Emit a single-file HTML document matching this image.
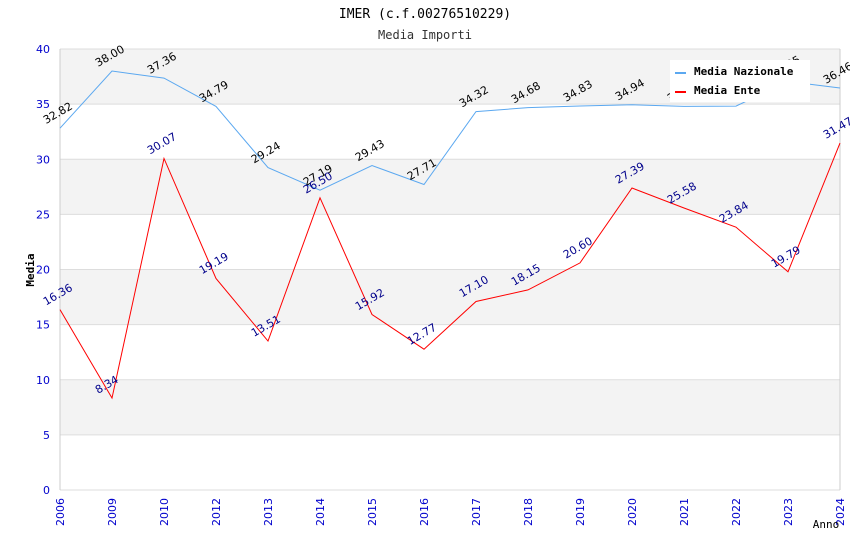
<!DOCTYPE html>
<html><head><meta charset="utf-8"><style>
body{margin:0;background:#fff;width:850px;height:550px;overflow:hidden}
.mono{font-family:"DejaVu Sans Mono","Liberation Mono",monospace}
.sans{font-family:"DejaVu Sans","Liberation Sans",sans-serif}
</style></head><body>
<svg id="chart" width="850" height="550" xmlns="http://www.w3.org/2000/svg">
<text class="mono" x="425" y="18" text-anchor="middle" font-size="13" fill="#000">IMER (c.f.00276510229)</text>
<text class="mono" x="425" y="39" text-anchor="middle" font-size="12" fill="#333">Media Importi</text>
<g id="bands"></g><g id="axes"></g><g id="series"></g><g id="labels"></g>
<g>
<rect x="670" y="60" width="140" height="42" fill="#fff"/>
<line x1="675" y1="73" x2="686" y2="73" stroke="#5ba8f0" stroke-width="2"/>
<text class="mono" x="694" y="75" font-size="11" font-weight="bold">Media Nazionale</text>
<line x1="675" y1="92" x2="686" y2="92" stroke="#f00" stroke-width="2"/>
<text class="mono" x="694" y="94" font-size="11" font-weight="bold">Media Ente</text>
</g>
<text class="mono" x="34" y="270" transform="rotate(-90 34 270)" text-anchor="middle" font-size="11" font-weight="bold">Media</text>
<text class="mono" x="826" y="528" text-anchor="middle" font-size="11">Anno</text>
</svg>
<script>
const categories=["2006","2009","2010","2012","2013","2014","2015","2016","2017","2018","2019","2020","2021","2022","2023","2024"];
const nazionale=[32.82,38.00,37.36,34.79,29.24,27.19,29.43,27.71,34.32,34.68,34.83,34.94,34.80,34.82,37.05,36.46];
const ente=[16.36,8.34,30.07,19.19,13.51,26.50,15.92,12.77,17.10,18.15,20.60,27.39,25.58,23.84,19.79,31.47];
const yTicks=[0,5,10,15,20,25,30,35,40];
const NS="http://www.w3.org/2000/svg";
const L=60,R=840,T=49,B=490,yMax=40;
const x=i=>L+i*(R-L)/(categories.length-1);
const y=v=>B-v*(B-T)/yMax;
function mk(tag,attrs,parent,txt){const e=document.createElementNS(NS,tag);for(const k in attrs)e.setAttribute(k,attrs[k]);if(txt!==undefined)e.textContent=txt;document.getElementById(parent).appendChild(e);return e;}
for(let i=0;i<yTicks.length-1;i++){
 const r=mk('rect',{x:L,y:y(yTicks[i+1]),width:R-L,height:y(yTicks[i])-y(yTicks[i+1]),fill:(i%2===1)?'#f3f3f3':'#ffffff'},'bands');
 
 
}
yTicks.forEach(v=>{
 const l=mk('line',{x1:L,x2:R,y1:y(v),y2:y(v),stroke:'#ddd'},'axes');
 
 
 const t=mk('text',{class:'sans',x:L-10,y:y(v)+4,'text-anchor':'end','font-size':11,fill:'#00c'},'axes',String(v));
 
 
});
mk('line',{x1:L,x2:L,y1:T,y2:B,stroke:'#ccc'},'axes');
mk('line',{x1:R,x2:R,y1:T,y2:B,stroke:'#ccc'},'axes');
categories.forEach((c,i)=>{
 const t=mk('text',{class:'sans',x:x(i)+4,y:B+8,'text-anchor':'end','font-size':11,fill:'#00c',transform:`rotate(-90 ${x(i)+4} ${B+8})`},'axes',c);
 
 
});
function series(data,color,lblColor,name){
 const p=mk('polyline',{points:data.map((v,i)=>x(i)+','+y(v)).join(' '),fill:'none',stroke:color,'stroke-width':1},'series');
 
 
 data.forEach((v,i)=>{
  const lx=x(i)-14,ly=y(v)-4;
  const t=mk('text',{class:'sans',x:lx,y:ly,'font-size':11,fill:lblColor,transform:`rotate(-30 ${lx} ${ly})`},'labels',v.toFixed(2));
  
  
 });
}
series(nazionale,'#5ba8f0','#000','nazionale');
series(ente,'#f00','#00008b','ente');
</script>
</body></html>
